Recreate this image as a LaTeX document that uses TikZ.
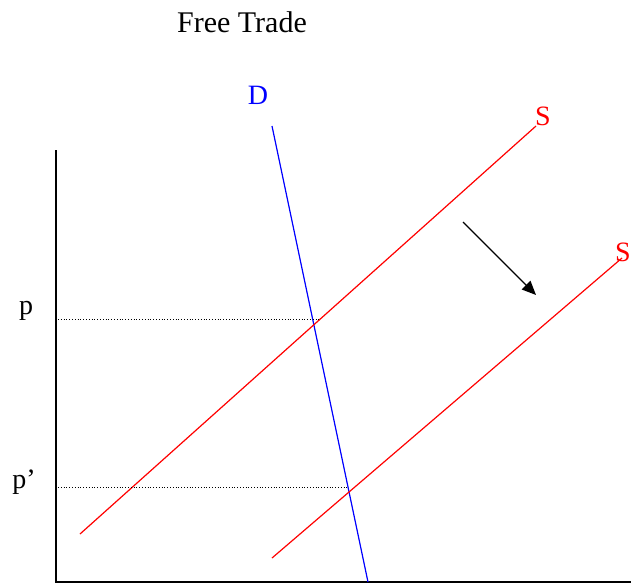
\documentclass[tikz,border=0pt]{standalone}
\usepackage{fontspec}
\setmainfont{Liberation Serif}
\usepackage{xcolor}
\usetikzlibrary{arrows.meta}

\begin{document}
\begin{tikzpicture}[
  x=1pt, y=-1pt,
  lab/.style={font=\fontsize{28}{30}\selectfont, inner sep=0pt},
  axis/.style={line width=1.6pt},
  supply/.style={red, line width=1.2pt},
  demand/.style={blue, line width=1.2pt},
  level/.style={dotted, line width=0.8pt},
  shiftarrow/.style={-{Triangle[length=14pt,width=12pt]}, line width=1.4pt}
]
  \useasboundingbox (0,0) rectangle (631,584);

  \node[lab, font=\fontsize{30}{32}\selectfont] (title) at (242,22) {Free Trade};

  % axes
  \coordinate (origin) at (56,582);
  \coordinate (ytop) at (56,150);
  \coordinate (xend) at (631,582);
  \draw[axis] (ytop) -- (origin) -- (xend);

  % curves
  \coordinate (s1a) at (80,534);
  \coordinate (s1b) at (536,126);
  \coordinate (s2a) at (272,558);
  \coordinate (s2b) at (622,258);
  \coordinate (da) at (272,126);
  \coordinate (db) at (368,582);
  \draw[demand] (da) -- (db);
  \draw[supply] (s1a) -- (s1b);
  \draw[supply] (s2a) -- (s2b);

  \node[lab, red] (slab1) at (543,116) {S};
  \node[lab, red] (slab2) at (623,252) {S};
  \node[lab, blue] (dlab) at (258,95) {D};

  % price levels
  \coordinate (y1) at (58,319);
  \coordinate (y2) at (58,487);
  \coordinate (eq1) at (321,319);
  \coordinate (eq2) at (348,487);
  \draw[level] (y1) -- (eq1);
  \draw[level] (y2) -- (eq2);
  \node[lab] (plab) at (26,311) {p};
  \node[lab] (pplab) at (24,482) {p’};

  % shift of supply
  \coordinate (from) at (463,222);
  \coordinate (to) at (536,295);
  \draw[shiftarrow] (from) -- (to);
\end{tikzpicture}
\end{document}
